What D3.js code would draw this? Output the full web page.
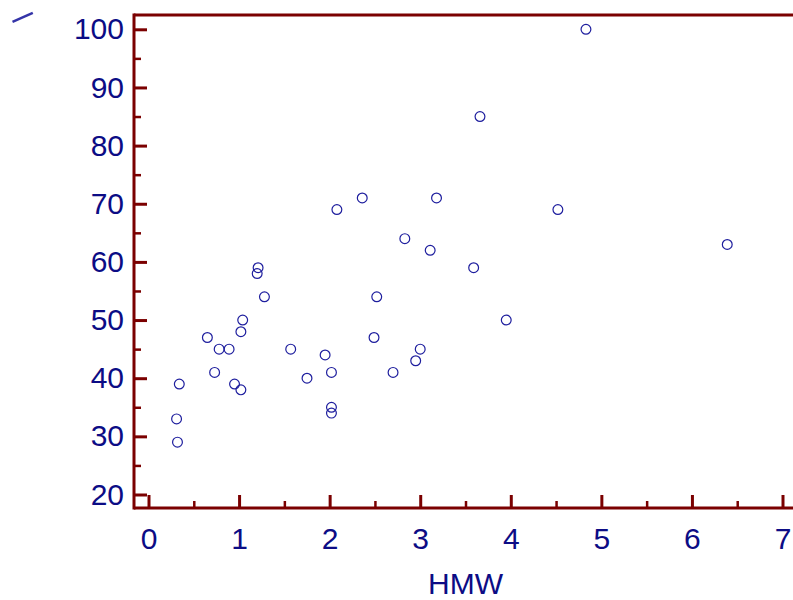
<!DOCTYPE html>
<html>
<head>
<meta charset="utf-8">
<script src="https://cdn.jsdelivr.net/npm/d3@7"></script>
<style>
  body { margin: 0; background: #fff; }
  svg { display: block; font-family: "Liberation Sans", Arial, sans-serif; }
</style>
</head>
<body>
<div id="chart"></div>
<script>
// HMW values and matching y values
const hmw = [4.83, 3.66, 2.36, 3.18, 2.08, 4.52, 6.39, 2.83, 3.11, 1.21, 1.20, 3.59,
             1.28, 2.52, 1.04, 3.95, 1.02, 0.65, 2.49, 0.78, 0.89, 1.57, 3.00, 1.95,
             2.95, 0.73, 2.02, 2.70, 1.75, 0.34, 0.95, 1.02, 0.31, 2.02, 2.02, 0.32];
const yVals = [100, 85, 71, 71, 69, 69, 63, 64, 62, 59, 58, 59,
               54, 54, 50, 50, 48, 47, 47, 45, 45, 45, 45, 44,
               43, 41, 41, 41, 40, 39, 39, 38, 33, 35, 34, 29];
const xTicks = [0, 1, 2, 3, 4, 5, 6, 7];
const xMinor = [0.5, 1.5, 2.5, 3.5, 4.5, 5.5, 6.5];
const yTicks = [20, 30, 40, 50, 60, 70, 80, 90, 100];
const yMinor = [25, 35, 45, 55, 65, 75, 85, 95];
const xTitle = "HMW";

const width = 793, height = 600;
const frame = {left: 134, top: 15, bottom: 508, right: 793};
const axisColor = "#7b0000", textColor = "#0c0c85", dotColor = "#1e1e9e";
const fontSize = "30px";

const svg = d3.select("#chart").append("svg")
    .attr("width", width)
    .attr("height", height);

const x = d3.scaleLinear().domain([0, 7]).range([148.5, 782.5]);
const y = d3.scaleLinear().domain([20, 100]).range([494.5, 29.3]);

// frame lines
const fr = svg.append("g").attr("stroke", axisColor).attr("stroke-width", 3);
fr.append("line").attr("x1", frame.left).attr("x2", frame.left).attr("y1", frame.top - 1.5).attr("y2", frame.bottom + 1.5);
fr.append("line").attr("x1", frame.left).attr("x2", frame.right).attr("y1", frame.bottom).attr("y2", frame.bottom);
fr.append("line").attr("x1", frame.left).attr("x2", frame.right).attr("y1", frame.top).attr("y2", frame.top);

// y axis
const yAxis = svg.append("g")
    .attr("transform", "translate(" + frame.left + ",0)")
    .call(d3.axisLeft(y).tickValues(yTicks).tickSize(-13).tickPadding(10).tickFormat(d3.format("d")));
const yMin = svg.append("g")
    .attr("transform", "translate(" + frame.left + ",0)")
    .call(d3.axisLeft(y).tickValues(yMinor).tickSize(-7).tickFormat(""));

// x axis
const xAxis = svg.append("g")
    .attr("transform", "translate(0," + frame.bottom + ")")
    .call(d3.axisBottom(x).tickValues(xTicks).tickSize(-13).tickPadding(20).tickFormat(d3.format("d")));
const xMin = svg.append("g")
    .attr("transform", "translate(0," + frame.bottom + ")")
    .call(d3.axisBottom(x).tickValues(xMinor).tickSize(-7).tickFormat(""));

[yAxis, yMin, xAxis, xMin].forEach(g => {
    g.select(".domain").remove();
    g.selectAll(".tick line").attr("stroke", axisColor).attr("stroke-width", 3);
    g.selectAll(".tick text")
        .attr("fill", textColor)
        .style("font-size", fontSize)
        .style("font-family", "'Liberation Sans', Arial, sans-serif");
});
yMin.selectAll(".tick line").attr("stroke-width", 2.5);
xMin.selectAll(".tick line").attr("stroke-width", 2.5);

// axis title
svg.append("text")
    .attr("x", (x(0) + x(7)) / 2)
    .attr("y", 594)
    .attr("text-anchor", "middle")
    .attr("fill", textColor)
    .style("font-size", fontSize)
    .text(xTitle);

// stray y title stroke in the corner
svg.append("line")
    .attr("x1", 12.5).attr("y1", 21.8)
    .attr("x2", 32.8).attr("y2", 12.8)
    .attr("stroke", "#3434a8")
    .attr("stroke-width", 2.5);

// points
const data = hmw.map((h, i) => ({x: h, y: yVals[i]}));
svg.append("g")
    .selectAll("circle")
    .data(data)
    .enter()
    .append("circle")
    .attr("cx", d => x(d.x))
    .attr("cy", d => y(d.y))
    .attr("r", 4.9)
    .attr("fill", "none")
    .attr("stroke", dotColor)
    .attr("stroke-width", 1.2);
</script>
</body>
</html>
